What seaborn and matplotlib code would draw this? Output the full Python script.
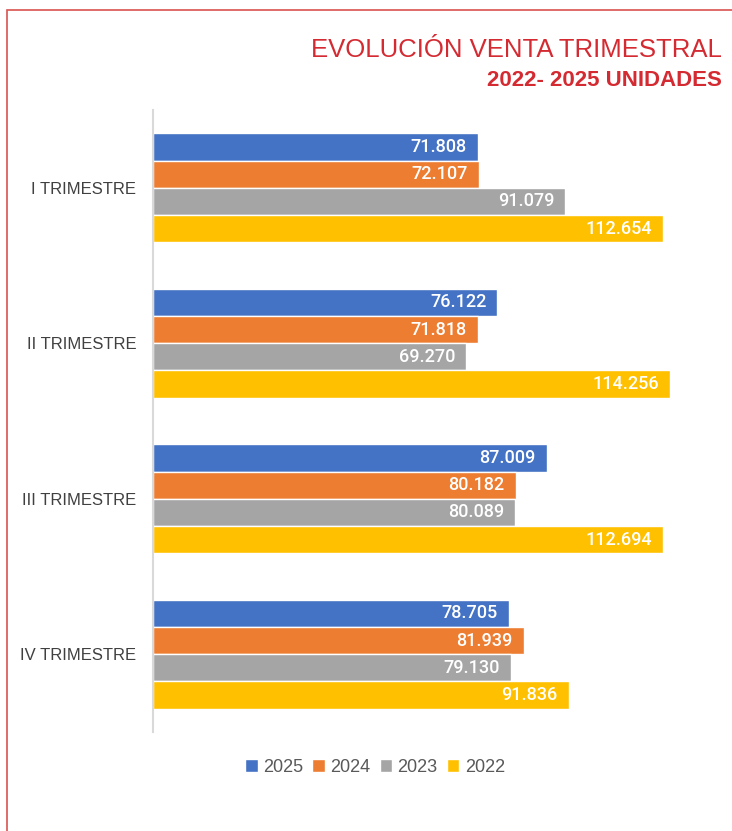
import pandas as pd
import matplotlib.pyplot as plt
import seaborn as sns
from matplotlib.patches import Rectangle

# data
quarters = ["I TRIMESTRE", "II TRIMESTRE", "III TRIMESTRE", "IV TRIMESTRE"]
years = ["2025", "2024", "2023", "2022"]
sales_2025 = [71808, 76122, 87009, 78705]
sales_2024 = [72107, 71818, 80182, 81939]
sales_2023 = [91079, 69270, 80089, 79130]
sales_2022 = [112654, 114256, 112694, 91836]
colors = ["#4472C4", "#ED7D31", "#A5A5A5", "#FFC000"]


def build_frame():
    rows = []
    for year, values in zip(years, [sales_2025, sales_2024, sales_2023, sales_2022]):
        for q, v in zip(quarters, values):
            rows.append({"Trimestre": q, "Año": year, "Unidades": v})
    return pd.DataFrame(rows)


def main():
    sns.set_style("white")
    plt.rcParams["font.family"] = ["Liberation Sans", "DejaVu Sans"]

    data = build_frame()

    fig = plt.figure(figsize=(7.32, 8.31), dpi=100)
    ax = fig.add_axes([153 / 732, 1 - 732 / 831, (696 - 153) / 732, (732 - 110) / 831])

    sns.barplot(data=data, y="Trimestre", x="Unidades", hue="Año", order=quarters,
                hue_order=years, palette=colors, orient="h", width=0.7,
                edgecolor="white", linewidth=1, saturation=1, ax=ax)

    ax.set_xlim(0, 120000)
    ax.set_xlabel("")
    ax.set_ylabel("")
    ax.set_xticks([])
    for side in ["top", "right", "bottom"]:
        ax.spines[side].set_visible(False)
    ax.spines["left"].set_color("#D9D9D9")
    ax.spines["left"].set_linewidth(1.5)
    ax.tick_params(axis="y", length=0, pad=12, labelsize=12, labelcolor="#404040")

    # value labels inside the bar ends, spanish thousands separator
    for container in ax.containers:
        labels = [f"{int(b.get_width()):,}".replace(",", ".") for b in container]
        texts = ax.bar_label(container, labels=labels, padding=-8, color="white",
                             fontsize=13, fontweight="medium", family="Roboto")
        for t in texts:
            t.set_ha("right")

    handles, lbls = ax.get_legend_handles_labels()
    ax.legend(handles, lbls, loc="center", bbox_to_anchor=(375 / 732, 1 - 767 / 831),
              bbox_transform=fig.transFigure, ncol=4, frameon=False, fontsize=13,
              labelcolor="#595959", handlelength=0.7, handleheight=0.7,
              handletextpad=0.3, columnspacing=0.5)

    fig.text(722 / 732, 1 - 50 / 831, "EVOLUCIÓN VENTA TRIMESTRAL", ha="right", va="center",
             color="#D42A32", fontsize=18.5)
    fig.text(722 / 732, 1 - 81 / 831, "2022- 2025 UNIDADES", ha="right", va="center",
             color="#D42A32", fontsize=16, fontweight="bold")

    # thin red frame around the chart area
    fig.patches.append(Rectangle((7 / 732, -0.05), 1.1, 1 - 10 / 831 + 0.05,
                                 transform=fig.transFigure, fill=False,
                                 edgecolor="#D9534F", linewidth=1.2))

    fig.savefig("out.png", dpi=100)


if __name__ == "__main__":
    main()
